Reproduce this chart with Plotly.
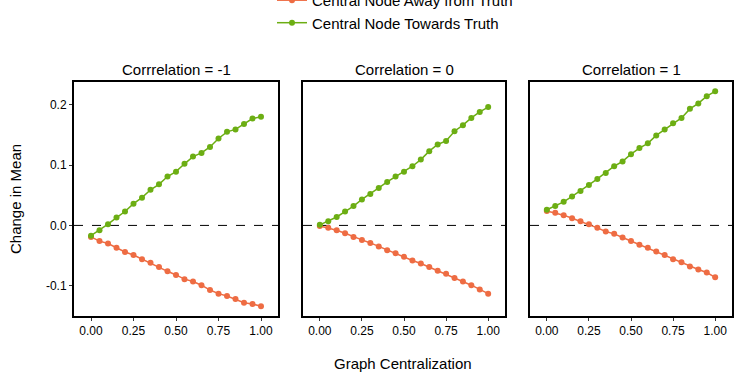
import plotly.graph_objects as go

x_vals = [round(i * 0.05, 2) for i in range(21)]

panel_titles = ["Corrrelation = -1", "Correlation = 0", "Correlation = 1"]

away_m1 = [-0.019, -0.026, -0.030, -0.037, -0.044, -0.049, -0.056, -0.062, -0.069, -0.076, -0.082,
           -0.089, -0.093, -0.099, -0.107, -0.113, -0.117, -0.122, -0.128, -0.130, -0.134]
toward_m1 = [-0.017, -0.008, 0.002, 0.013, 0.023, 0.036, 0.046, 0.059, 0.068, 0.081, 0.089,
             0.102, 0.114, 0.120, 0.130, 0.144, 0.155, 0.159, 0.168, 0.177, 0.180]

away_0 = [-0.001, -0.004, -0.008, -0.013, -0.019, -0.024, -0.029, -0.035, -0.041, -0.046, -0.052,
          -0.058, -0.063, -0.069, -0.075, -0.080, -0.087, -0.093, -0.099, -0.106, -0.113]
toward_0 = [0.001, 0.007, 0.014, 0.023, 0.032, 0.043, 0.052, 0.062, 0.072, 0.081, 0.089,
            0.098, 0.109, 0.123, 0.134, 0.140, 0.156, 0.166, 0.178, 0.188, 0.196]

away_p1 = [0.024, 0.021, 0.017, 0.012, 0.007, 0.002, -0.004, -0.010, -0.014, -0.020, -0.026,
           -0.032, -0.037, -0.043, -0.049, -0.056, -0.061, -0.068, -0.073, -0.078, -0.086]
toward_p1 = [0.026, 0.032, 0.039, 0.048, 0.057, 0.067, 0.077, 0.087, 0.098, 0.106, 0.118,
             0.128, 0.136, 0.149, 0.159, 0.169, 0.178, 0.193, 0.202, 0.214, 0.222]

away_series = [away_m1, away_0, away_p1]
toward_series = [toward_m1, toward_0, toward_p1]

series_names = ["Central Node Away from Truth", "Central Node Towards Truth"]
colors = ["#EE6C43", "#6CAE13"]

x_ticks = [0, 0.25, 0.5, 0.75, 1.0]
x_tick_labels = ["0.00", "0.25", "0.50", "0.75", "1.00"]
y_ticks = [-0.1, 0.0, 0.1, 0.2]
y_tick_labels = ["-0.1", "0.0", "0.1", "0.2"]

FONT = "Liberation Sans, Arial, sans-serif"

W, H = 740, 384
ml, mr, mt, mb = 74, 8, 82, 68
pw = W - ml - mr
ph = H - mt - mb

domains = [
    [0.0, 204 / pw],
    [(303 - ml) / pw, (505 - ml) / pw],
    [(530 - ml) / pw, 1.0],
]

fig = go.Figure()

for i in range(3):
    xa = "x" if i == 0 else f"x{i+1}"
    ya = "y" if i == 0 else f"y{i+1}"
    for j, data in enumerate([away_series[i], toward_series[i]]):
        fig.add_trace(go.Scatter(
            x=x_vals, y=data, mode="lines+markers",
            name=series_names[j],
            line=dict(color=colors[j], width=1.5),
            marker=dict(color=colors[j], size=6),
            xaxis=xa, yaxis=ya,
            showlegend=(i == 0),
            legendrank=j,
        ))

layout = dict(
    width=W, height=H,
    margin=dict(l=ml, r=mr, t=mt, b=mb, autoexpand=False),
    paper_bgcolor="white", plot_bgcolor="white",
    font=dict(family=FONT, size=15, color="black"),
    legend=dict(
        x=(272 - ml) / pw, xanchor="left",
        y=1.184, yanchor="bottom",
        orientation="v",
        font=dict(size=15, color="black"),
        bgcolor="rgba(0,0,0,0)",
        itemwidth=30,
        tracegroupgap=0,
    ),
)

for i in range(3):
    xk = "xaxis" if i == 0 else f"xaxis{i+1}"
    yk = "yaxis" if i == 0 else f"yaxis{i+1}"
    layout[xk] = dict(
        domain=domains[i], range=[-0.1, 1.1],
        tickvals=x_ticks, ticktext=x_tick_labels,
        ticks="outside", ticklen=3, tickcolor="#333333", tickwidth=1,
        tickfont=dict(size=12, color="black"),
        showgrid=False, zeroline=False,
        showline=True, mirror=True, linecolor="black", linewidth=2,
        anchor="y" if i == 0 else f"y{i+1}",
    )
    layout[yk] = dict(
        domain=[0, 1], range=[-0.150, 0.2375],
        tickvals=y_ticks, ticktext=y_tick_labels,
        ticks="outside" if i == 0 else "", ticklen=3, tickcolor="#333333", tickwidth=1,
        showticklabels=(i == 0),
        tickfont=dict(size=12, color="black"),
        showgrid=False, zeroline=False,
        showline=True, mirror=True, linecolor="black", linewidth=2,
        anchor="x" if i == 0 else f"x{i+1}",
    )

fig.update_layout(**layout)

for i in range(3):
    xd = "x domain" if i == 0 else f"x{i+1} domain"
    ya = "y" if i == 0 else f"y{i+1}"
    fig.add_shape(type="line", xref=xd, yref=ya, x0=0, x1=1, y0=0, y1=0,
                  line=dict(color="black", width=1, dash="dash"), layer="below")
    fig.add_annotation(
        text=panel_titles[i], xref="paper", yref="paper",
        x=(domains[i][0] + domains[i][1]) / 2, y=1, yshift=13,
        xanchor="center", yanchor="middle", showarrow=False,
        font=dict(size=15, color="black"),
    )

fig.add_annotation(
    text="Change in Mean", xref="paper", yref="paper",
    x=(15 - ml) / pw, y=0.5, xanchor="center", yanchor="middle",
    textangle=-90, showarrow=False, font=dict(size=15, color="black"),
)
fig.add_annotation(
    text="Graph Centralization", xref="paper", yref="paper",
    x=0.5, y=-(363 - (H - mb)) / ph, xanchor="center", yanchor="middle",
    showarrow=False, font=dict(size=15, color="black"),
)

fig.write_html("out.html")
